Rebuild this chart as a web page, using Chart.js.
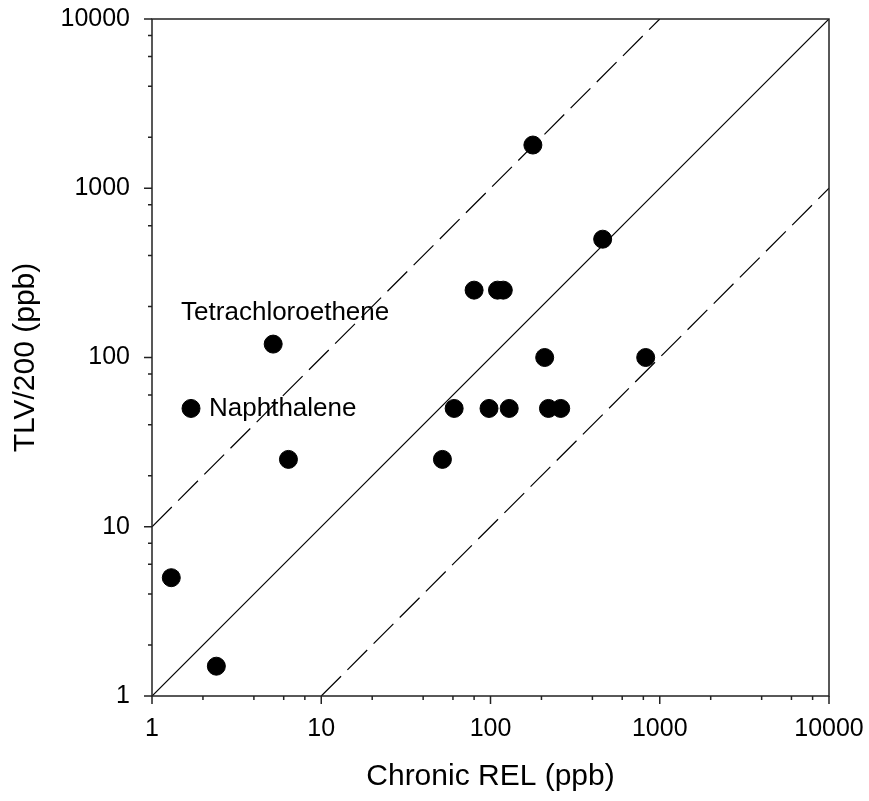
<!DOCTYPE html>
<html>
<head>
<meta charset="utf-8">
<script src="https://cdn.jsdelivr.net/npm/chart.js@4"></script>
<style>
  html, body { margin: 0; padding: 0; background: #fff; }
  #wrap { width: 869px; height: 801px; }
</style>
</head>
<body>
<div id="wrap"><canvas id="relChart"></canvas></div>
<script>
// chronic REL vs TLV/200, both in ppb
const relValues = [1.3, 2.4, 1.7, 5.2, 6.4, 52, 61, 80, 98, 110, 119, 129, 178, 209, 220, 260, 460, 826];
const tlvValues = [5, 1.5, 50, 120, 25, 25, 50, 250, 50, 250, 250, 50, 1800, 100, 50, 50, 500, 100];

// reference lines: 1:1 and factor of 10 either way
const oneToOneX = [1, 10000];
const oneToOneY = [1, 10000];
const upperX = [1, 1000];
const upperY = [10, 10000];
const lowerX = [10, 10000];
const lowerY = [1, 1000];

const majorTicks = [1, 10, 100, 1000, 10000];
const minorSteps = [2, 4, 6, 8];

const labelNames = ["Tetrachloroethene", "Naphthalene"];
const labelIndex = [3, 2];

const FONT = "'Liberation Sans', Arial, Helvetica, sans-serif";
const INK = "#000";

function allTicks() {
  const out = [];
  majorTicks.forEach((m, i) => {
    out.push(m);
    if (i < majorTicks.length - 1) minorSteps.forEach(s => out.push(m * s));
  });
  return out;
}

const pts = relValues.map((x, i) => ({ x: x, y: tlvValues[i] }));
const pair = (xs, ys) => xs.map((x, i) => ({ x: x, y: ys[i] }));

const framePlugin = {
  id: "frame",
  afterDatasetsDraw(chart) {
    const { ctx, chartArea: a, scales } = chart;
    ctx.save();
    ctx.strokeStyle = "#222";
    ctx.lineWidth = 1.5;
    ctx.strokeRect(a.left, a.top, a.right - a.left, a.bottom - a.top);
    ctx.beginPath();
    allTicks().forEach(v => {
      const len = majorTicks.includes(v) ? 8 : 4;
      const px = scales.x.getPixelForValue(v);
      ctx.moveTo(px, a.bottom);
      ctx.lineTo(px, a.bottom + len);
      const py = scales.y.getPixelForValue(v);
      ctx.moveTo(a.left, py);
      ctx.lineTo(a.left - len, py);
    });
    ctx.stroke();

    // point annotations
    ctx.fillStyle = INK;
    ctx.font = "26px " + FONT;
    ctx.textBaseline = "middle";
    const t = labelIndex[0];
    ctx.textAlign = "center";
    ctx.fillText(labelNames[0],
      scales.x.getPixelForValue(relValues[t]) + 12,
      scales.y.getPixelForValue(tlvValues[t]) - 31);
    const n = labelIndex[1];
    ctx.textAlign = "left";
    ctx.fillText(labelNames[1],
      scales.x.getPixelForValue(relValues[n]) + 18,
      scales.y.getPixelForValue(tlvValues[n]));
    ctx.restore();
  }
};

const logAxis = (title, extra) => Object.assign({
  type: "logarithmic",
  min: 1,
  max: 10000,
  grid: { display: false, drawTicks: false },
  border: { display: false },
  afterBuildTicks: (scale) => {
    scale.ticks = allTicks().map(v => ({ value: v }));
  },
  ticks: {
    autoSkip: false,
    maxRotation: 0,
    color: INK,
    font: { family: FONT, size: 25 },
    callback: (v) => (majorTicks.includes(v) ? String(v) : "")
  },
  title: {
    display: true,
    text: title,
    color: INK,
    font: { family: FONT, size: 30 }
  }
}, extra);

const ctx = document.getElementById("relChart").getContext("2d");
const relChart = new Chart(ctx, {
  type: "scatter",
  data: {
    datasets: [
      {
        label: "1:1",
        type: "line",
        data: pair(oneToOneX, oneToOneY),
        borderColor: INK,
        borderWidth: 1.2,
        pointRadius: 0,
        fill: false
      },
      {
        label: "x10",
        type: "line",
        data: pair(upperX, upperY),
        borderColor: INK,
        borderWidth: 1.2,
        borderDash: [28, 9],
        pointRadius: 0,
        fill: false
      },
      {
        label: "x0.1",
        type: "line",
        data: pair(lowerX, lowerY),
        borderColor: INK,
        borderWidth: 1.2,
        borderDash: [28, 9],
        pointRadius: 0,
        fill: false
      },
      {
        label: "chemicals",
        data: pts,
        backgroundColor: INK,
        borderColor: INK,
        pointRadius: 9,
        pointHoverRadius: 9
      }
    ]
  },
  options: {
    responsive: true,
    maintainAspectRatio: false,
    animation: false,
    layout: { padding: { top: 19, right: 40, left: 0, bottom: 0 } },
    plugins: {
      legend: { display: false },
      tooltip: { enabled: false }
    },
    scales: {
      x: logAxis("Chronic REL (ppb)", {
        afterFit: (scale) => {
          scale.height = 105;
          scale.paddingLeft = 0;
          scale.paddingRight = 0;
        }
      }),
      y: logAxis("TLV/200 (ppb)", {
        afterFit: (scale) => {
          scale.width = 152;
          scale.paddingTop = 0;
          scale.paddingBottom = 0;
        }
      })
    }
  },
  plugins: [framePlugin]
});
// tick label spacing from the axes
relChart.options.scales.x.ticks.padding = 18;
relChart.options.scales.y.ticks.padding = 22;
relChart.options.scales.x.title.padding = { top: 0, bottom: 6 };
relChart.options.scales.y.title.padding = { top: 8, bottom: 0 };
relChart.update();
</script>
</body>
</html>
